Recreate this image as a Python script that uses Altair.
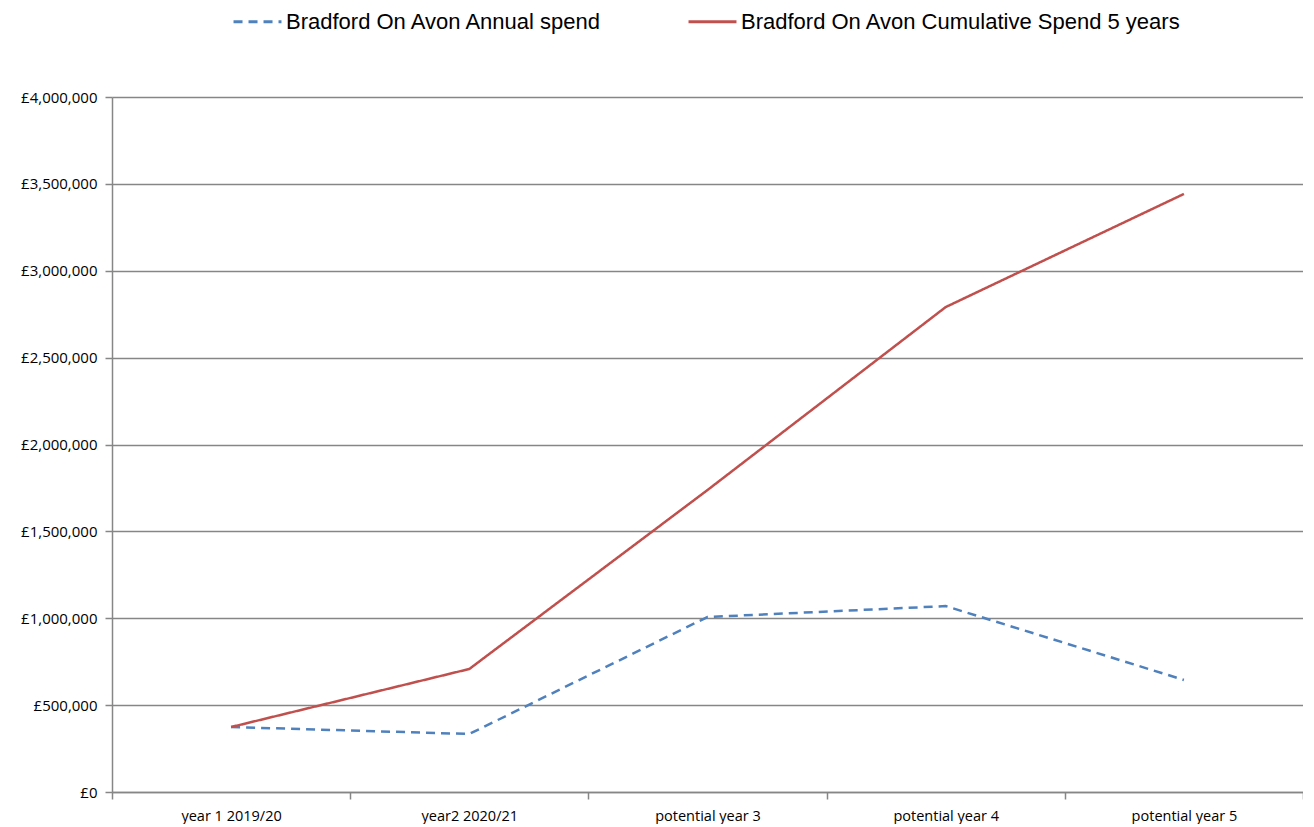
import altair as alt
import pandas as pd

categories = ["year 1 2019/20", "year2 2020/21", "potential year 3", "potential year 4", "potential year 5"]
annual = [374000, 334000, 1007000, 1070000, 645000]
cumulative = [374000, 708000, 1738000, 2791000, 3442000]
series_names = ["Bradford On Avon Annual spend", "Bradford On Avon Cumulative Spend 5 years"]

rows = []
for c, a, s in zip(categories, annual, cumulative):
    rows.append({"cat": c, "value": a, "series": series_names[0]})
    rows.append({"cat": c, "value": s, "series": series_names[1]})
df = pd.DataFrame(rows)

axis_grey = "#868686"

chart = alt.Chart(df).mark_line(strokeWidth=2.5).encode(
    x=alt.X("cat:N", sort=categories, title=None,
            scale=alt.Scale(paddingInner=0, paddingOuter=0),
            axis=alt.Axis(labelAngle=0, tickBand="extent", grid=False,
                          labelFont="Open Sans", labelFontSize=14.5, labelColor="#000000",
                          domainColor=axis_grey, tickColor=axis_grey, domainWidth=1.5,
                          tickWidth=1.5, tickSize=7, labelPadding=10)),
    y=alt.Y("value:Q", title=None,
            scale=alt.Scale(domain=[0, 4000000]),
            axis=alt.Axis(values=[0, 500000, 1000000, 1500000, 2000000, 2500000, 3000000, 3500000, 4000000],
                          labelExpr="'£' + format(datum.value, ',')",
                          labelFont="Open Sans", labelFontSize=15, labelColor="#000000",
                          gridColor=axis_grey, gridWidth=1.5, domainColor=axis_grey,
                          domainWidth=1.5, tickColor=axis_grey, tickWidth=1.5, tickSize=7,
                          labelPadding=8)),
    color=alt.Color("series:N", sort=series_names,
                    scale=alt.Scale(domain=series_names, range=["#4f81bd", "#c0504d"]),
                    legend=alt.Legend(title=None, orient="none", direction="horizontal",
                                      legendX=120, legendY=-101, padding=0,
                                      symbolType="stroke", symbolSize=2300, symbolStrokeWidth=3,
                                      labelFont="Liberation Sans", labelFontSize=22,
                                      labelColor="#000000", columnPadding=79, labelOffset=3,
                                      labelLimit=600)),
    strokeDash=alt.StrokeDash("series:N", sort=series_names,
                              scale=alt.Scale(domain=series_names, range=[[9, 6], [1, 0]]),
                              legend=None),
).properties(
    width=1191, height=695,
    autosize=alt.AutoSizeParams(type="none"),
    padding={"left": 104, "top": 89, "right": 0, "bottom": 32},
).configure_view(stroke=None)

chart.save("out.html", embed_options={"renderer": "svg", "actions": False})
